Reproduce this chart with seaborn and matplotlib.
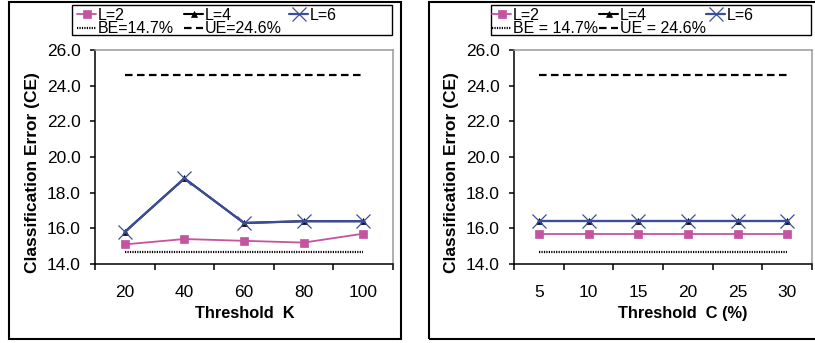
import numpy as np
import pandas as pd
import matplotlib
matplotlib.use("Agg")
import matplotlib.pyplot as plt
from matplotlib.patches import Rectangle
from matplotlib.ticker import FixedLocator, FixedFormatter, NullFormatter, FormatStrFormatter
import seaborn as sns

# Threshold K experiment
k_thresholds = [20, 40, 60, 80, 100]
k_ce_l2 = [15.1, 15.4, 15.3, 15.2, 15.7]
k_ce_l4 = [15.8, 18.8, 16.3, 16.4, 16.4]
k_ce_l6 = [15.8, 18.8, 16.3, 16.4, 16.4]

# Threshold C experiment
c_thresholds = [5, 10, 15, 20, 25, 30]
c_ce_l2 = [15.7, 15.7, 15.7, 15.7, 15.7, 15.7]
c_ce_l4 = [16.4, 16.4, 16.4, 16.4, 16.4, 16.4]
c_ce_l6 = [16.4, 16.4, 16.4, 16.4, 16.4, 16.4]

# Reference error levels
be_error = 14.7
ue_error = 24.6

y_ticks = [14.0, 16.0, 18.0, 20.0, 22.0, 24.0, 26.0]

sns.set_theme(style="ticks")
plt.rcParams["font.family"] = ["Liberation Sans", "DejaVu Sans"]
plt.rcParams["text.color"] = "black"
plt.rcParams["axes.labelcolor"] = "black"
plt.rcParams["xtick.color"] = "black"
plt.rcParams["ytick.color"] = "black"

PINK = "#C4549F"
BLUE = "#3B4E9E"
EDGE_GRAY = "#9A9A9A"

W, H = 815, 343
fig = plt.figure(figsize=(W / 100, H / 100), dpi=100)


def frac_box(x0, y0, x1, y1):
    """Pixel box (top-left origin) -> figure fraction [left, bottom, width, height]."""
    return [x0 / W, 1 - y1 / H, (x1 - x0) / W, (y1 - y0) / H]


def draw_panel(axes_px, frame_px, legend_px, col_x, cats, l2, l4, l6,
               be_label, ue_label, xlabel, xlabel_center):
    ax = fig.add_axes(frac_box(*axes_px))
    n = len(cats)
    df = pd.DataFrame({"pos": np.arange(n), "L2": l2, "L4": l4, "L6": l6})
    ends = pd.DataFrame({"pos": [0, n - 1],
                         "be": [be_error, be_error],
                         "ue": [ue_error, ue_error]})

    sns.lineplot(data=ends, x="pos", y="be", ax=ax, color="black", lw=1.6,
                 linestyle=(0, (0.55, 0.55)), label=be_label)
    sns.lineplot(data=ends, x="pos", y="ue", ax=ax, color="black", lw=1.6,
                 linestyle=(0, (3.4, 2.0)), label=ue_label)
    sns.lineplot(data=df, x="pos", y="L2", ax=ax, color=PINK, lw=1.3,
                 marker="s", markersize=6, markeredgewidth=0.5,
                 markeredgecolor=PINK, label="L=2")
    sns.lineplot(data=df, x="pos", y="L4", ax=ax, color="black", lw=1.5,
                 marker="^", markersize=4.5, markeredgewidth=0.5,
                 markeredgecolor="black", label="L=4")
    sns.lineplot(data=df, x="pos", y="L6", ax=ax, color=BLUE, lw=1.6,
                 marker="x", markersize=10, markeredgewidth=0.9,
                 markeredgecolor=BLUE, label="L=6")

    ax.set_xlim(-0.5, n - 0.5)
    ax.set_ylim(14, 26)
    ax.xaxis.set_major_locator(FixedLocator(np.arange(n + 1) - 0.5))
    ax.xaxis.set_major_formatter(NullFormatter())
    ax.xaxis.set_minor_locator(FixedLocator(np.arange(n)))
    ax.xaxis.set_minor_formatter(FixedFormatter([str(c) for c in cats]))
    ax.tick_params(axis="x", which="major", direction="out", length=4.5,
                   width=1.1, color="black")
    ax.tick_params(axis="x", which="minor", length=0, pad=15, labelsize=12.5)
    ax.set_yticks(y_ticks)
    ax.yaxis.set_major_formatter(FormatStrFormatter("%.1f"))
    ax.tick_params(axis="y", direction="out", length=3.5, width=1.1, pad=7,
                   labelsize=12.5)

    for side in ("left", "bottom"):
        ax.spines[side].set_color("black")
        ax.spines[side].set_linewidth(1.1)
    for side in ("top", "right"):
        ax.spines[side].set_visible(True)
        ax.spines[side].set_color(EDGE_GRAY)
        ax.spines[side].set_linewidth(1.1)
    ax.grid(False)

    x0, y0, x1, y1 = axes_px
    ax.set_xlabel(xlabel, fontsize=11.8, fontweight="bold")
    ax.xaxis.set_label_coords((xlabel_center - x0) / (x1 - x0),
                              -(306 - y1 + 0.0) / (y1 - y0) + 0.0 - 0.0)
    ax.xaxis.label.set_verticalalignment("top")
    ax.set_ylabel("Classification Error (CE)", fontsize=12.5, fontweight="bold")
    ax.yaxis.set_label_coords((x0 - 55 - x0) / (x1 - x0),
                              (y1 - 173) / (y1 - y0))

    handles, labels = ax.get_legend_handles_labels()
    if ax.get_legend() is not None:
        ax.get_legend().remove()
    columns = [["L=2", be_label], ["L=4", ue_label], ["L=6"]]
    for cx, col in zip(col_x, columns):
        hs = [handles[labels.index(lb)] for lb in col]
        fig.legend(hs, col, ncol=1, loc="upper left",
                   bbox_to_anchor=((cx - 1) / W, 1 - (legend_px[1] + 3) / H),
                   frameon=False, fontsize=11.5, handlelength=1.2,
                   handletextpad=0.1, labelspacing=-0.1, borderpad=0,
                   borderaxespad=0)

    lx0, ly0, lx1, ly1 = legend_px
    fig.add_artist(Rectangle((lx0 / W, 1 - ly1 / H), (lx1 - lx0) / W,
                             (ly1 - ly0) / H, transform=fig.transFigure,
                             fill=False, edgecolor="black", lw=1.0))
    fx0, fy0, fx1, fy1 = frame_px
    fig.add_artist(Rectangle((fx0 / W, 1 - fy1 / H), (fx1 - fx0) / W,
                             (fy1 - fy0) / H, transform=fig.transFigure,
                             fill=False, edgecolor="black", lw=1.5))
    return ax


draw_panel((95, 50, 393, 264), (9, 2, 401, 339), (72, 5, 392, 35),
           (78, 185, 290), k_thresholds, k_ce_l2, k_ce_l4, k_ce_l6,
           "BE=14.7%", "UE=24.6%", "Threshold  K", 245)
draw_panel((514, 50, 812, 264), (429, 2, 830, 339), (491, 5, 811, 35),
           (493, 600, 707), c_thresholds, c_ce_l2, c_ce_l4, c_ce_l6,
           "BE = 14.7%", "UE = 24.6%", "Threshold  C (%)", 683)

fig.savefig("out.png", dpi=100, facecolor="white")
